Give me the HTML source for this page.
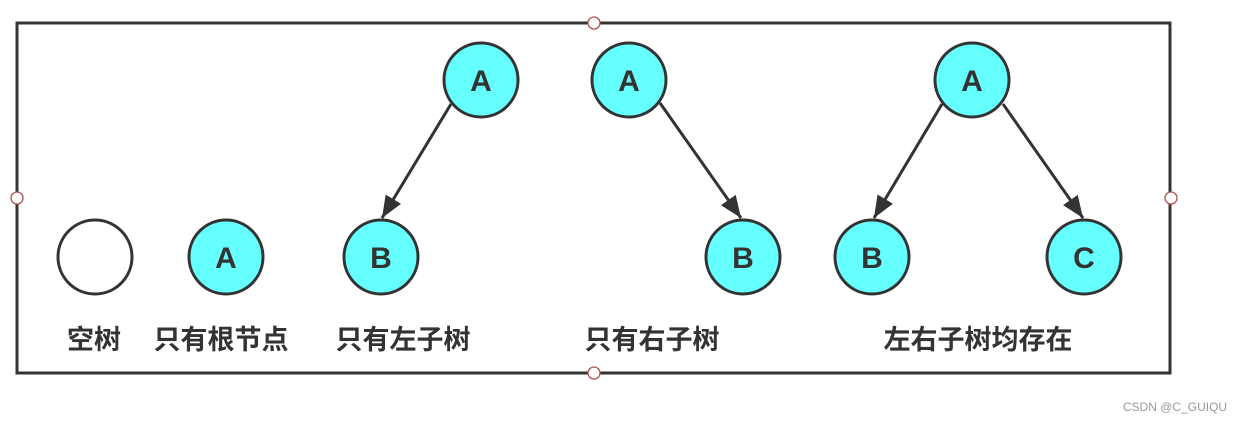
<!DOCTYPE html>
<html><head><meta charset="utf-8"><style>
html,body{margin:0;padding:0;background:#fff;width:1240px;height:423px;overflow:hidden}
svg text{font-family:"Liberation Sans","Noto Sans CJK SC",sans-serif;font-weight:bold;fill:#333}
</style></head><body>
<svg width="1240" height="423" viewBox="0 0 1240 423" xmlns="http://www.w3.org/2000/svg">
<defs>
<marker id="a2" viewBox="0 0 22 18" refX="22" refY="9" markerWidth="22" markerHeight="18" markerUnits="userSpaceOnUse" orient="auto"><path d="M0,0 L22,9 L0,18 z" fill="#333"/></marker></defs>
<rect x="17" y="23" width="1153" height="350" fill="none" stroke="#333" stroke-width="3"/>
<g fill="#fff" stroke="#b05050" stroke-width="1.3">
<circle cx="594" cy="23" r="6"/><circle cx="594" cy="373" r="6"/><circle cx="17" cy="198" r="6"/><circle cx="1171" cy="198" r="6"/></g>
<g stroke="#333" stroke-width="3" marker-end="url(#a2)">
<line x1="451" y1="104" x2="382" y2="218"/>
<line x1="660" y1="103" x2="741" y2="218"/>
<line x1="942" y1="104" x2="874" y2="218"/>
<line x1="1003" y1="104" x2="1083" y2="218"/>
</g>
<g stroke="#333" stroke-width="3">
<circle cx="95" cy="257" r="37" fill="#fff"/>
<g fill="#66ffff">
<circle cx="226" cy="257" r="37"/><circle cx="381" cy="257" r="37"/><circle cx="481" cy="80" r="37"/>
<circle cx="629" cy="80" r="37"/><circle cx="743" cy="257" r="37"/>
<circle cx="972" cy="80" r="37"/><circle cx="872" cy="257" r="37"/><circle cx="1084" cy="257" r="37"/>
</g></g>
<g font-size="30" text-anchor="middle">
<text x="226" y="268">A</text><text x="381" y="268">B</text><text x="481" y="91">A</text>
<text x="629" y="91">A</text><text x="743" y="268">B</text>
<text x="972" y="91">A</text><text x="872" y="268">B</text><text x="1084" y="268">C</text>
</g>
<g font-size="27" text-anchor="middle">
<text x="94" y="349">空树</text><text x="221" y="349">只有根节点</text><text x="403" y="349">只有左子树</text>
<text x="652" y="349">只有右子树</text><text x="978" y="349">左右子树均存在</text>
</g>
<text x="1175" y="411" font-size="12" text-anchor="middle" style="font-weight:normal;fill:#999">CSDN @C_GUIQU</text>
</svg>
</body></html>
